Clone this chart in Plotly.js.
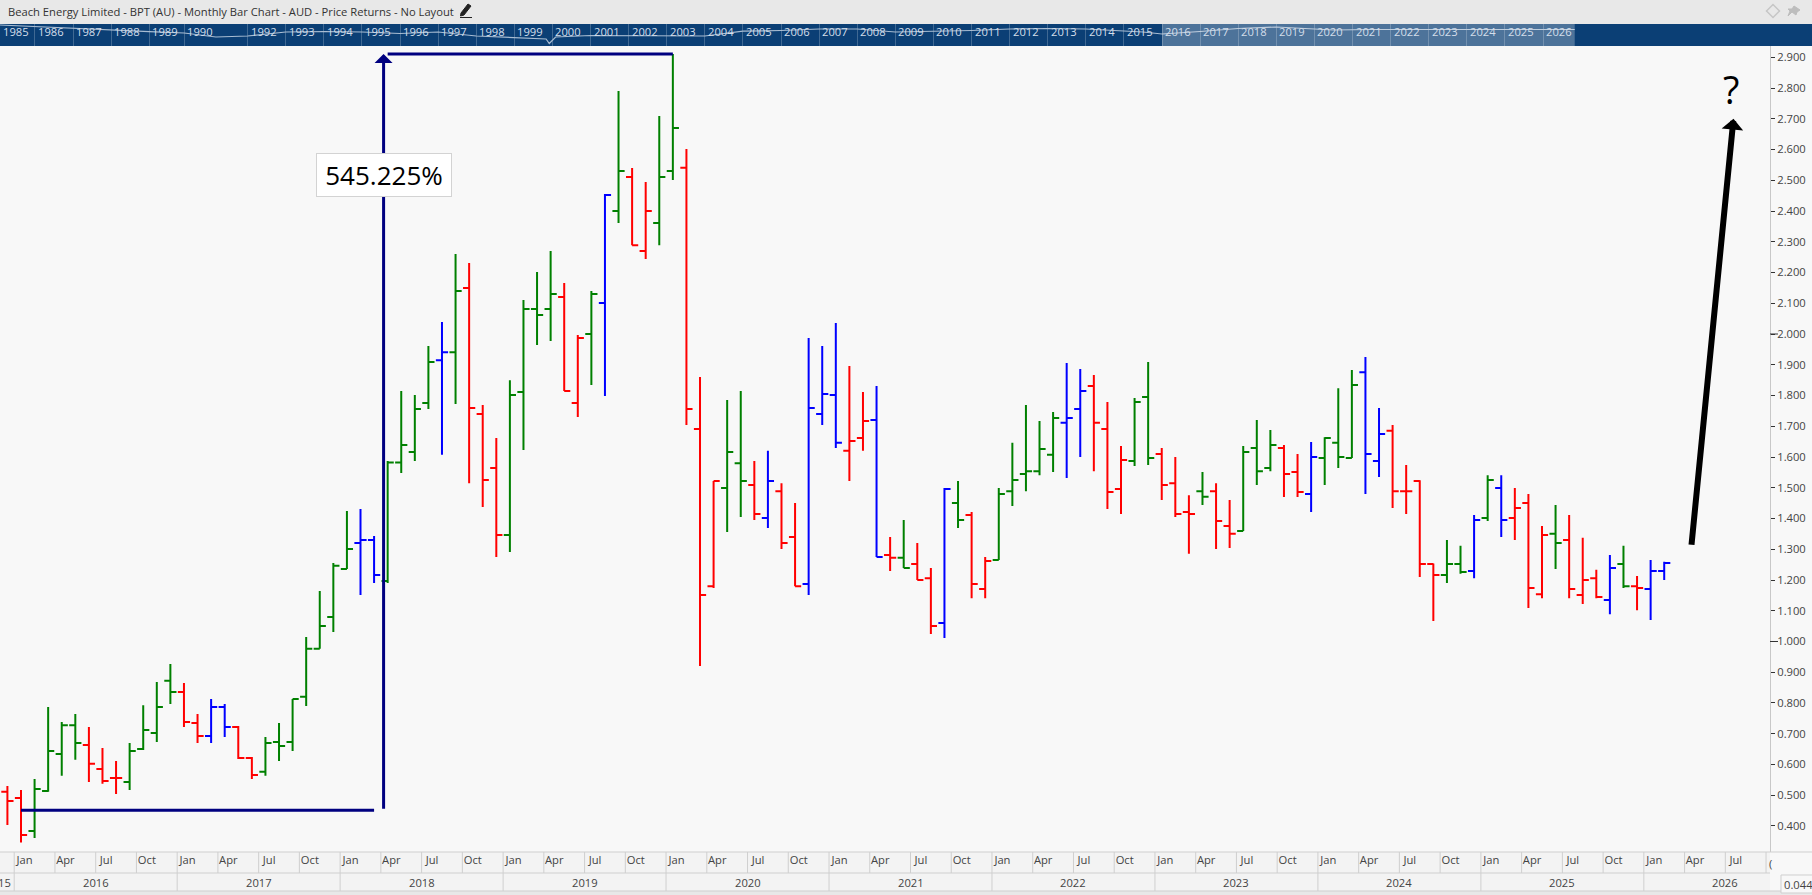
<!DOCTYPE html>
<html>
<head>
<meta charset="utf-8">
<title>BPT monthly bars</title>
<script src="https://cdn.plot.ly/plotly-3.0.1.min.js"></script>
<style>
html, body { margin: 0; padding: 0; background: #f8f8f8; overflow: hidden; }
#chart { width: 1812px; height: 895px; }
</style>
</head>
<body>
<div id="chart"></div>
<script>
/* monthly bars, first one is Dec 2015, last one Feb 2026 */
var opens = [.511,
	.491,.384,.514,.634,.728,.663,.585,.556,.543,.650,.702,.872,
	.836,.735,.693,.787,.722,.621,.576,.673,.673,.820,.976,1.080,
	1.236,1.320,1.330,1.197,1.582,1.616,1.776,1.915,1.941,2.150,1.740,1.564,
	1.346,1.811,2.081,2.081,2.120,1.776,2.000,2.101,2.400,2.511,2.270,2.361,
	2.530,2.541,1.691,1.180,1.499,1.580,1.509,1.402,1.489,1.340,1.187,1.740,
	1.802,1.620,1.662,1.720,1.281,1.272,1.252,1.206,1.060,1.450,1.411,1.171,
	1.265,1.489,1.545,1.554,1.607,1.711,1.756,1.831,1.691,1.496,1.587,1.795,
	1.610,1.515,1.421,1.489,1.489,1.376,1.359,1.629,1.564,1.629,1.551,1.480,
	1.597,1.646,1.597,1.876,1.587,1.685,1.489,1.522,1.252,1.216,1.252,1.229,
	1.402,1.499,1.402,1.450,1.154,1.350,1.330,1.151,1.206,1.135,1.252,1.180,
	1.171,1.229];
var highs = [.530,
	.517,.553,.787,.738,.764,.722,.654,.611,.670,.793,.868,.927,
	.865,.764,.813,.797,.725,.624,.689,.735,.813,1.015,1.164,1.255,
	1.424,1.431,1.343,1.587,1.815,1.802,1.961,2.039,2.260,2.231,1.769,1.662,
	1.850,2.111,2.202,2.270,2.166,1.997,2.140,2.455,2.790,2.540,2.494,2.709,
	2.911,2.602,1.860,1.522,1.785,1.815,1.587,1.620,1.515,1.450,1.987,1.961,
	2.036,1.896,1.811,1.831,1.340,1.395,1.320,1.239,1.499,1.522,1.421,1.275,
	1.499,1.646,1.769,1.717,1.746,1.906,1.886,1.867,1.779,1.636,1.792,1.909,
	1.629,1.600,1.476,1.551,1.515,1.460,1.636,1.720,1.688,1.639,1.610,1.649,
	1.664,1.824,1.883,1.925,1.759,1.704,1.574,1.524,1.254,1.330,1.311,1.411,
	1.541,1.541,1.499,1.480,1.376,1.444,1.411,1.337,1.233,1.281,1.311,1.213,
	1.265,1.259];
var lows = [.403,
	.346,.361,.511,.563,.615,.543,.537,.504,.517,.647,.673,.797,
	.722,.670,.670,.689,.618,.553,.563,.611,.644,.790,.976,1.031,
	1.236,1.151,1.190,1.190,1.548,1.587,1.756,1.607,1.772,1.515,1.437,1.275,
	1.291,1.623,1.964,1.977,1.815,1.730,1.834,1.798,2.361,2.289,2.244,2.289,
	2.501,1.704,.920,1.174,1.356,1.405,1.395,1.369,1.301,1.180,1.151,1.704,
	1.629,1.522,1.620,1.275,1.229,1.239,1.200,1.024,1.011,1.369,1.141,1.141,
	1.265,1.441,1.489,1.541,1.551,1.532,1.600,1.554,1.431,1.415,1.571,1.574,
	1.460,1.405,1.285,1.444,1.301,1.304,1.359,1.509,1.554,1.470,1.470,1.421,
	1.509,1.564,1.597,1.480,1.535,1.434,1.415,1.210,1.067,1.190,1.220,1.206,
	1.392,1.340,1.330,1.109,1.141,1.236,1.141,1.122,1.141,1.089,1.174,1.102,
	1.070,1.200];
var closes = [.481,
	.371,.520,.644,.728,.670,.602,.546,.556,.644,.712,.787,.836,
	.738,.693,.787,.722,.621,.566,.670,.660,.813,.976,1.050,1.246,
	1.301,1.330,1.216,1.582,1.639,1.756,1.909,1.941,2.140,1.759,1.525,1.346,
	1.802,2.081,2.062,2.130,1.815,1.987,2.130,2.452,2.530,2.289,2.400,2.511,
	2.670,1.756,1.151,1.522,1.616,1.522,1.415,1.522,1.320,1.180,1.759,1.805,
	1.646,1.652,1.717,1.275,1.272,1.239,1.200,1.050,1.496,1.395,1.187,1.262,
	1.480,1.525,1.554,1.626,1.727,1.727,1.815,1.711,1.486,1.590,1.779,1.597,
	1.509,1.415,1.415,1.471,1.392,1.350,1.616,1.554,1.639,1.545,1.486,1.600,
	1.662,1.600,1.834,1.610,1.675,1.489,1.489,1.252,1.216,1.252,1.226,1.395,
	1.525,1.395,1.434,1.174,1.346,1.320,1.171,1.200,1.145,1.239,1.180,1.174,
	1.229,1.255];
// r, g or b for every bar
var barColors = ('r' +
	'rggggrrrgggg' +
	'rrbbrrgggggg' +
	'gbbggggbgrrr' +
	'ggggrrgbgrrg' +
	'grrrggrbrrbb' +
	'brrbrgrrbgrr' +
	'gggggbbrrrgg' +
	'rrrgrrgggrrb' +
	'gggbbrrrrggb' +
	'gbrrrgrrrbgr' +
	'bb').split('');

var monthLabels = ['Jan', 'Apr', 'Jul', 'Oct'];
var years = [2016, 2017, 2018, 2019, 2020, 2021, 2022, 2023, 2024, 2025, 2026];

// the 545% move
var moveLow = 0.451;
var moveHigh = 2.911;
var moveText = '545.225%';

// navigator strip up top, x is a count of months
var navYears = [1985,1986,1987,1988,1989,1990,1992,1993,1994,1995,1996,1997,1998,1999,2000,2001,2002,2003,2004,2005,2006,2007,2008,2009,2010,2011,2012,2013,2014,2015,2016,2017,2018,2019,2020,2021,2022,2023,2024,2025,2026];
var navTicks = [0,11,23,35,47,58,78,90,102,114,126,138,150,162,174,186,198,210,222,234,246,258,270,282,294,306,318,330,342,354,366,378,390,402,414,426,438,450,462,474,486];
var navMonths = [0,11,23,35,47,58,68,78,90,102,114,126,138,150,162,172,173,175,186,198,210,222,234,246,258,270,282,294,306,318,330,342,354,360,366,372,378,390,402,414,420,432,444,456,468,480,486,496];
var navValues = [21,19.3,18,16,14.3,13,9,10,14,14.5,14,12.5,14,10,8,7,2.5,9,10.5,10.5,10.5,10,14.8,15.5,17,17,14,14.5,15.5,17,17.5,17,15.5,14,12,13,14.5,17.5,19,17,16,16.5,16.5,17,17,16.5,16.5,16.5];

var barX = closes.map(function (c, i) { return i - 1; });

function ohlcTrace(code, color) {
	var t = { x: [], open: [], high: [], low: [], close: [], type: 'ohlc', tickwidth: 0.45, hoverinfo: 'skip',
		increasing: { line: { color: color, width: 2 } },
		decreasing: { line: { color: color, width: 2 } } };
	barColors.forEach(function (c, i) {
		if (c !== code) return;
		t.x.push(barX[i]);
		t.open.push(opens[i]);
		t.high.push(highs[i]);
		t.low.push(lows[i]);
		t.close.push(closes[i]);
	});
	return t;
}

// page pixels to paper fractions
function px(v) { return v / 1770; }
function py(v) { return (852 - v) / 828; }

var traces = [
	ohlcTrace('r', '#ff0000'),
	ohlcTrace('g', '#008000'),
	ohlcTrace('b', '#0000ff'),
	{ x: navMonths, y: navValues, xaxis: 'x2', yaxis: 'y2', type: 'scatter', mode: 'lines', hoverinfo: 'skip',
		line: { color: '#a8bcd2', width: 1.2 } }
];

var monthTicks = [], monthText = [];
years.forEach(function (y) {
	monthLabels.forEach(function (m, k) {
		var i = (y - 2016) * 12 + k * 3;
		if (i > 126) return;
		monthTicks.push(i + 0.27);
		monthText.push(m);
	});
});

var shapes = [
	// header, navigator band, bottom rows
	{ type: 'rect', xref: 'paper', yref: 'paper', x0: 0, x1: px(1812), y0: py(24), y1: py(0), fillcolor: '#e8e8e8', line: { width: 0 }, layer: 'below' },
	{ type: 'rect', xref: 'paper', yref: 'paper', x0: 0, x1: px(1812), y0: py(46), y1: py(24), fillcolor: '#0b3f75', line: { width: 0 }, layer: 'below' },
	{ type: 'rect', xref: 'paper', yref: 'paper', x0: 0, x1: px(1770), y0: py(891), y1: py(852), fillcolor: '#f3f3f3', line: { width: 0 }, layer: 'below' },
	{ type: 'rect', xref: 'paper', yref: 'paper', x0: 0, x1: px(1812), y0: py(895), y1: py(891), fillcolor: '#e8e8e8', line: { width: 0 }, layer: 'below' },
	{ type: 'rect', xref: 'x2', yref: 'paper', x0: 366, x1: 496, y0: py(46), y1: py(24), fillcolor: 'rgba(255,255,255,0.27)', line: { width: 0 } },
	{ type: 'line', xref: 'paper', yref: 'paper', x0: 0, x1: px(1812), y0: py(852), y1: py(852), line: { color: '#cfcfcf', width: 1 } },
	{ type: 'line', xref: 'paper', yref: 'paper', x0: 0, x1: px(1770), y0: py(873), y1: py(873), line: { color: '#cfcfcf', width: 1 } },
	{ type: 'line', xref: 'paper', yref: 'paper', x0: 0, x1: px(1812), y0: py(891), y1: py(891), line: { color: '#cfcfcf', width: 1 } },
	// 1.000 and 2.000 get a longer tick
	{ type: 'line', xref: 'paper', yref: 'y', x0: px(1770), x1: px(1778), y0: 1, y1: 1, line: { color: '#333', width: 1 } },
	{ type: 'line', xref: 'paper', yref: 'y', x0: px(1770), x1: px(1778), y0: 2, y1: 2, line: { color: '#333', width: 1 } },
	// 0.044 box
	{ type: 'rect', xref: 'paper', yref: 'paper', x0: px(1781), x1: px(1820), y0: py(893), y1: py(875), fillcolor: '#f8f8f8', line: { color: '#cfcfcf', width: 1 } },
	// pencil
	{ type: 'path', xref: 'paper', yref: 'paper', fillcolor: '#222', line: { color: '#222', width: 1 },
		path: 'M' + px(461) + ',' + py(13) + ' L' + px(468) + ',' + py(4) + ' L' + px(471) + ',' + py(6) + ' L' + px(464) + ',' + py(15) + ' L' + px(460.5) + ',' + py(16) + ' Z' },
	{ type: 'line', xref: 'paper', yref: 'paper', x0: px(460), x1: px(472), y0: py(17.5), y1: py(17.5), line: { color: '#222', width: 1 } },
	// diamond and pin, top right
	{ type: 'path', xref: 'paper', yref: 'paper', fillcolor: 'rgba(0,0,0,0)', line: { color: '#c6c6c6', width: 1.5 },
		path: 'M' + px(1773) + ',' + py(4.5) + ' L' + px(1779.5) + ',' + py(11) + ' L' + px(1773) + ',' + py(17.5) + ' L' + px(1766.5) + ',' + py(11) + ' Z' },
	{ type: 'path', xref: 'paper', yref: 'paper', fillcolor: '#bdbdbd', line: { color: '#bdbdbd', width: 1 },
		path: 'M' + px(1794) + ',' + py(6) + ' L' + px(1800) + ',' + py(10) + ' L' + px(1797) + ',' + py(12) + ' L' + px(1796) + ',' + py(15) + ' L' + px(1792) + ',' + py(12) + ' L' + px(1788) + ',' + py(16) + ' L' + px(1790) + ',' + py(11) + ' L' + px(1788) + ',' + py(9) + ' L' + px(1792) + ',' + py(9) + ' Z' },
	// the move: low line, high line
	{ type: 'line', xref: 'x', yref: 'y', x0: 0, x1: 26, y0: moveLow, y1: moveLow, line: { color: '#000080', width: 3 } },
	{ type: 'line', xref: 'x', yref: 'y', x0: 27, x1: 48, y0: moveHigh, y1: moveHigh, line: { color: '#000080', width: 3 } }
];

// month and year cells on the bottom rows
for (var i = 0; i <= 129; i += 3) {
	shapes.push({ type: 'line', xref: 'x', yref: 'paper', x0: i - 0.5, x1: i - 0.5, y0: py(873), y1: py(852), line: { color: '#cfcfcf', width: 1 } });
}
years.forEach(function (y) {
	var s = (y - 2016) * 12 - 0.5;
	shapes.push({ type: 'line', xref: 'x', yref: 'paper', x0: s, x1: s, y0: py(891), y1: py(873), line: { color: '#cfcfcf', width: 1 } });
});

var font = '"Open Sans", sans-serif';
var small = 11.2;
var annotations = [
	{ text: 'Beach Energy Limited - BPT (AU) - Monthly Bar Chart - AUD - Price Returns - No Layout', xref: 'paper', yref: 'paper', x: px(6), y: py(12), xanchor: 'left', yanchor: 'middle', showarrow: false, font: { family: font, size: small, color: '#333' } },
	{ text: '', xref: 'x', yref: 'y', axref: 'x', ayref: 'y', x: 26.7, y: moveHigh, ax: 26.7, ay: moveLow, showarrow: true, arrowhead: 1, arrowsize: 1, arrowwidth: 3, arrowcolor: '#000080', standoff: 0 },
	{ text: moveText, xref: 'x', yref: 'y', x: 26.7, y: 2.517, width: 132, height: 40, showarrow: false, bgcolor: '#ffffff', bordercolor: '#d3d3d3', borderwidth: 1, font: { family: font, size: 26, color: '#000' } },
	{ text: '', xref: 'x', yref: 'y', axref: 'x', ayref: 'y', x: 126.1, y: 2.7, ax: 123, ay: 1.31, showarrow: true, arrowhead: 1, arrowsize: 0.6, arrowwidth: 6, arrowcolor: '#000', standoff: 0 },
	{ text: '?', xref: 'x', yref: 'y', x: 125.9, y: 2.797, showarrow: false, font: { family: font, size: 38, color: '#000' } },
	{ text: '15', xref: 'paper', yref: 'paper', x: px(13), y: py(882), xanchor: 'right', yanchor: 'middle', showarrow: false, font: { family: font, size: small, color: '#444' } },
	{ text: '(', xref: 'paper', yref: 'paper', x: px(1767), y: py(863), xanchor: 'left', yanchor: 'middle', showarrow: false, font: { family: font, size: small, color: '#444' } },
	{ text: '0.044', xref: 'paper', yref: 'paper', x: px(1782), y: py(884), xanchor: 'left', yanchor: 'middle', showarrow: false, font: { family: font, size: small, color: '#444' } }
];
years.forEach(function (y) {
	annotations.push({ text: String(y), xref: 'x', yref: 'paper', x: (y - 2016) * 12 + 5.5, y: py(882), yanchor: 'middle', showarrow: false, font: { family: font, size: small, color: '#444' } });
});
navYears.forEach(function (y, k) {
	annotations.push({ text: String(y), xref: 'x2', yref: 'paper', x: navTicks[k], y: py(31), xanchor: 'left', yanchor: 'middle', xshift: 1, showarrow: false, font: { family: font, size: small, color: '#d4deea' } });
});

var layout = {
	width: 1812,
	height: 895,
	showlegend: false,
	margin: { l: 0, r: 42, t: 24, b: 43, pad: 0 },
	paper_bgcolor: '#f8f8f8',
	plot_bgcolor: '#f8f8f8',
	font: { family: font, size: small, color: '#444' },
	xaxis: { range: [-1.546, 128.79], rangeslider: { visible: false }, anchor: 'y', showgrid: false, zeroline: false, showline: false,
		tickmode: 'array', tickvals: monthTicks, ticktext: monthText, ticks: '', tickfont: { family: font, size: small, color: '#444' } },
	yaxis: { domain: [0, 0.9734], range: [0.3154, 2.9366], side: 'right', anchor: 'x', showgrid: false, zeroline: false, showline: true, linecolor: '#c8c8c8', linewidth: 1,
		dtick: 0.1, tick0: 0.4, tickformat: '.3f', ticks: 'outside', ticklen: 4, tickcolor: '#333', tickfont: { family: font, size: small, color: '#444' } },
	xaxis2: { range: [0, 557.5], anchor: 'y2', showticklabels: false, showgrid: true, gridcolor: 'rgba(255,255,255,0.22)', gridwidth: 1, zeroline: false,
		tickmode: 'array', tickvals: navTicks },
	yaxis2: { domain: [0.9734, 1], range: [0, 22], anchor: 'x2', visible: false },
	shapes: shapes,
	annotations: annotations
};

Plotly.newPlot('chart', traces, layout, { displayModeBar: false, staticPlot: true });
</script>
</body>
</html>
